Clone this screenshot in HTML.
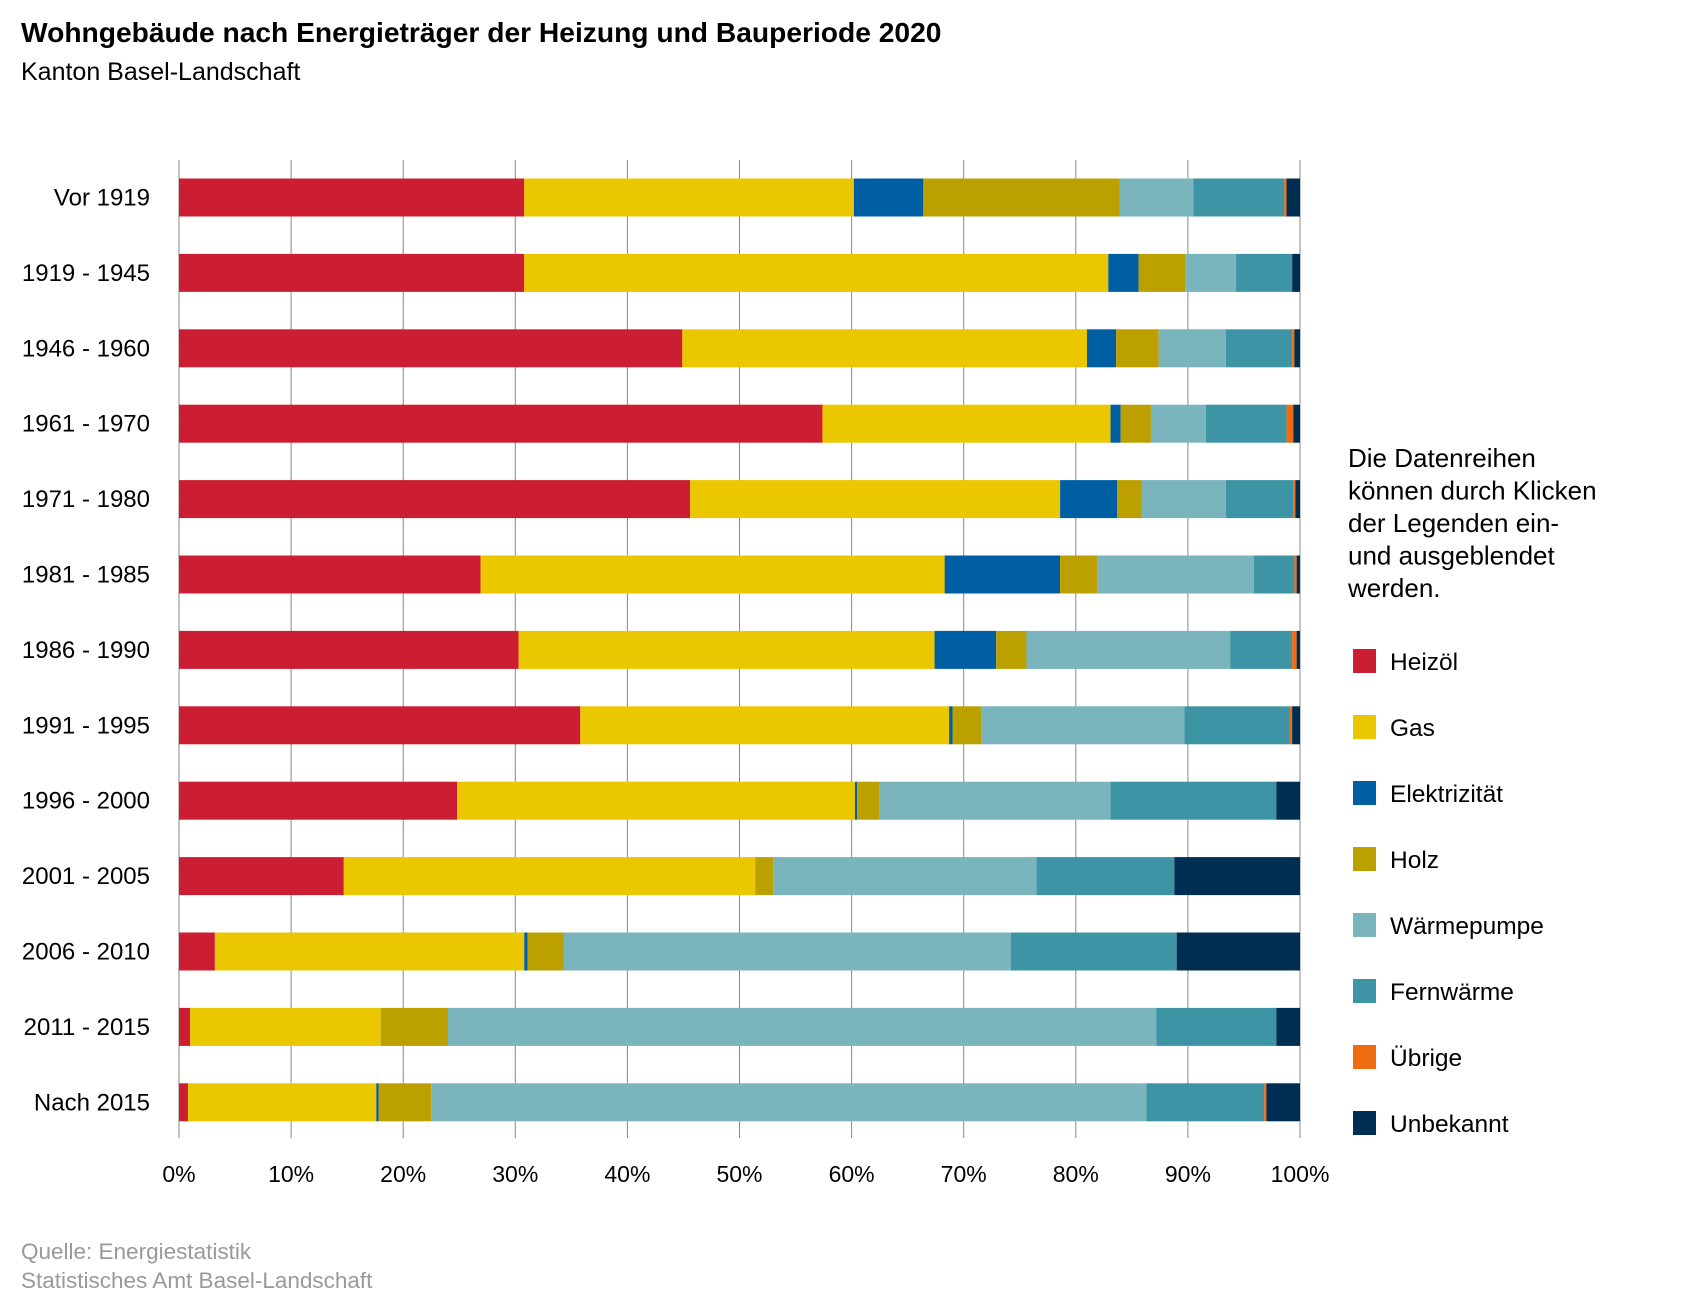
<!DOCTYPE html>
<html><head><meta charset="utf-8"><style>
body{margin:0;background:#fff;width:1700px;height:1300px;overflow:hidden;font-family:"Liberation Sans",sans-serif}
</style></head><body>
<svg id="chart" width="1700" height="1300" xmlns="http://www.w3.org/2000/svg">
<text x="21" y="42" font-size="28.2" font-weight="bold" fill="#000">Wohngebäude nach Energieträger der Heizung und Bauperiode 2020</text>
<text x="21" y="80" font-size="25" fill="#000">Kanton Basel-Landschaft</text>
<g id="grid"></g><g id="bars"></g><g id="ylabels"></g><g id="xlabels"></g><g id="legend"></g>
<text x="1348" y="467" font-size="26" fill="#000"><tspan x="1348">Die Datenreihen</tspan><tspan x="1348" dy="32.5">können durch Klicken</tspan><tspan x="1348" dy="32.5">der Legenden ein-</tspan><tspan x="1348" dy="32.5">und ausgeblendet</tspan><tspan x="1348" dy="32.5">werden.</tspan></text>
<text x="21" y="1259" font-size="22.5" fill="#999">Quelle: Energiestatistik</text>
<text x="21" y="1288" font-size="22.5" fill="#999">Statistisches Amt Basel-Landschaft</text>
</svg>
<script>
const categories=["Vor 1919","1919 - 1945","1946 - 1960","1961 - 1970","1971 - 1980","1981 - 1985","1986 - 1990","1991 - 1995","1996 - 2000","2001 - 2005","2006 - 2010","2011 - 2015","Nach 2015"];
const seriesNames=["Heizöl","Gas","Elektrizität","Holz","Wärmepumpe","Fernwärme","Übrige","Unbekannt"];
const seriesColors=["#cc1e32","#ebc700","#005ea3","#bba000","#7ab4bd","#3c94a4","#ef6c12","#002e52"];
const heizoel=[30.8,30.8,44.9,57.4,45.6,26.9,30.3,35.8,24.8,14.7,3.2,1.0,0.8];
const gas=[29.4,52.1,36.1,25.7,33.0,41.4,37.1,32.9,35.5,36.7,27.6,17.0,16.8];
const elektrizitaet=[6.2,2.7,2.6,0.9,5.1,10.3,5.5,0.3,0.2,0,0.3,0,0.2];
const holz=[17.5,4.2,3.8,2.7,2.2,3.3,2.7,2.6,2.0,1.6,3.2,6.0,4.7];
const waermepumpe=[6.6,4.5,6.0,4.9,7.5,14.0,18.2,18.1,20.6,23.5,39.9,63.2,63.8];
const fernwaerme=[8.1,5.0,5.9,7.2,6.0,3.6,5.5,9.4,14.8,12.3,14.8,10.7,10.5];
const uebrige=[0.2,0.0,0.2,0.6,0.2,0.2,0.4,0.2,0,0,0,0,0.2];
const unbekannt=[1.2,0.7,0.5,0.6,0.4,0.3,0.3,0.7,2.1,11.2,11.0,2.1,3.0];
const xTicks=[0,10,20,30,40,50,60,70,80,90,100];
const series=[heizoel,gas,elektrizitaet,holz,waermepumpe,fernwaerme,uebrige,unbekannt];
const NS="http://www.w3.org/2000/svg";
const X0=179,X1=1300,YTOP=160,YBOT=1138,ROW0=197.5,ROWH=75.4,BARH=38;
const x=v=>X0+(X1-X0)*v/100;
const y=i=>ROW0+i*ROWH;
function mk(t,a,p){const e=document.createElementNS(NS,t);for(const k in a)e.setAttribute(k,a[k]);p.appendChild(e);return e;}
const grid=document.getElementById('grid'),xl=document.getElementById('xlabels');
xTicks.forEach(t=>{
 const l=mk('line',{x1:x(t),x2:x(t),y1:YTOP,y2:YBOT,stroke:'#888','stroke-width':1},grid);
 
 
 const tx=mk('text',{x:x(t),y:1182,'font-size':23,'text-anchor':'middle',fill:'#000'},xl);
 tx.textContent=t+'%';
 
 
});
const bars=document.getElementById('bars'),yl=document.getElementById('ylabels');
categories.forEach((c,i)=>{
 let acc=0;
 series.forEach((s,k)=>{
  const v=s[i];
  const r=mk('rect',{x:x(acc),y:y(i)-BARH/2,width:Math.max(0,x(acc+v)-x(acc)),height:BARH,fill:seriesColors[k]},bars);
  
  
  acc+=v;
 });
 const t=mk('text',{x:150,y:y(i)+8,'font-size':24,'text-anchor':'end',fill:'#000'},yl);
 t.textContent=c;
 
 
});
const lg=document.getElementById('legend');
seriesNames.forEach((n,k)=>{
 const g=mk('g',{},lg);
 
 
 const cy=661+k*66;
 mk('rect',{x:1353,y:cy-12,width:23,height:24,fill:seriesColors[k]},g);
 const t=mk('text',{x:1390,y:cy+9,'font-size':24.5,fill:'#000'},g);
 t.textContent=n;
});
</script>
</body></html>
